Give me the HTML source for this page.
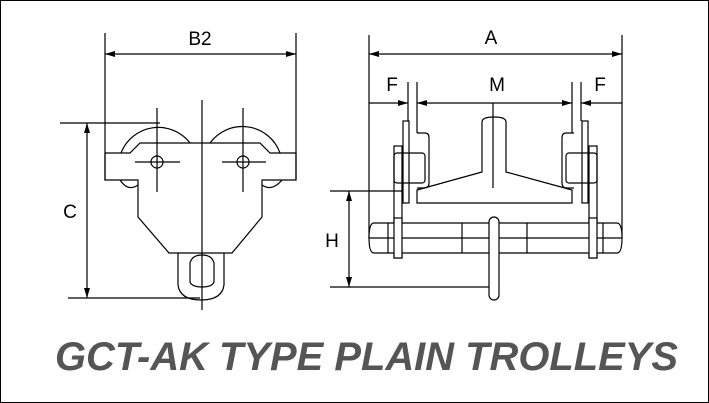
<!DOCTYPE html>
<html><head><style>
html,body{margin:0;padding:0;background:#fff;}
svg{display:block;}
text{font-family:"Liberation Sans",sans-serif;}
</style></head><body>
<svg width="709" height="403" viewBox="0 0 709 403" xmlns="http://www.w3.org/2000/svg">
<defs>
<marker id="ar" viewBox="0 0 10 6" refX="10" refY="3" markerWidth="18" markerHeight="6" markerUnits="userSpaceOnUse" orient="auto-start-reverse">
<path d="M0,0 L10,3 L0,6 z" fill="#000"/></marker>
</defs>
<rect x="0.5" y="0.5" width="708" height="402" fill="#fff" stroke="#000" stroke-width="1"/>
<g stroke="#000" stroke-width="1.2" fill="none">
<!-- LEFT VIEW -->
<line x1="105" y1="33" x2="105" y2="180"/>
<line x1="296" y1="33" x2="296" y2="180"/>
<line x1="105" y1="54" x2="296" y2="54" marker-start="url(#ar)" marker-end="url(#ar)"/>
<line x1="202" y1="100" x2="202" y2="310" />
<!-- wheels -->
<path d="M121,153 A40,40 0 0 1 190,143"/>
<path d="M210,143 A40,40 0 0 1 280,153"/>
<path d="M120,180 Q128,192 138,185"/>
<path d="M282,180 Q272,192 262,185"/>
<!-- plate -->
<path d="M105,153 L130,153 L140,143 L260,143 L270,153 L296,153 L296,180 L262,180 L262,185"/>
<path d="M105,153 L105,180 L138,180 L138,217 L169,253 L232,253 L262,217 L262,185"/>
<circle cx="157" cy="162" r="6"/>
<circle cx="243" cy="162" r="6"/>
<line x1="157" y1="108" x2="157" y2="192"/><line x1="135" y1="162" x2="180" y2="162"/>
<line x1="243" y1="108" x2="243" y2="192"/><line x1="222" y1="162" x2="266" y2="162"/>
<!-- eye -->
<path d="M178,253 L178,285 Q180,300 201,300 Q222,300 224,285 L224,253"/>
<path d="M190,263 Q192,255 202,255 Q212,255 214,263 L214,282 Q212,287 202,287 Q192,287 190,282 Z"/>
<!-- C dim -->
<line x1="60" y1="123" x2="160" y2="123"/>
<line x1="68" y1="298" x2="200" y2="298"/>
<line x1="87" y1="123" x2="87" y2="298" marker-start="url(#ar)" marker-end="url(#ar)"/>

<!-- RIGHT VIEW -->
<line x1="369" y1="35" x2="369" y2="238"/>
<line x1="622" y1="35" x2="622" y2="238"/>
<line x1="369" y1="54" x2="622" y2="54" marker-start="url(#ar)" marker-end="url(#ar)"/>
<line x1="408" y1="82" x2="408" y2="121"/><line x1="417" y1="82" x2="417" y2="133"/>
<line x1="572" y1="82" x2="572" y2="133"/><line x1="581" y1="82" x2="581" y2="121"/>
<line x1="369" y1="103" x2="408" y2="103" marker-end="url(#ar)"/>
<line x1="417" y1="103" x2="572" y2="103" marker-start="url(#ar)" marker-end="url(#ar)"/>
<line x1="581" y1="103" x2="622" y2="103" marker-start="url(#ar)"/>
<line x1="493" y1="103" x2="493" y2="188"/>
<!-- rail -->
<path d="M482,172 L482,122 Q482,117 494,117 Q506,117 506,122 L506,172 L572,190 L572,203 L417,203 L417,190 Z"/>
<!-- left side -->
<rect x="403" y="121" width="6" height="82"/>
<rect x="394" y="146" width="8" height="112"/>
<path d="M417,133 L425,133 Q429,133 429,138 L429,183 Q429,188 424,188 L417,188"/>
<rect x="394" y="153" width="31" height="30" rx="3"/>
<!-- right side -->
<rect x="582" y="121" width="6" height="82"/>
<rect x="589" y="146" width="8" height="112"/>
<path d="M574,133 L566,133 Q562,133 562,138 L562,183 Q562,188 567,188 L574,188"/>
<rect x="566" y="153" width="31" height="30" rx="3"/>
<!-- axle -->
<path d="M374,223 L617,223 Q622,223 622,238 Q622,253 617,253 L374,253 Q369,253 369,238 Q369,223 374,223 Z" fill="#fff"/>
<line x1="369" y1="238" x2="622" y2="238"/>
<line x1="388" y1="223" x2="388" y2="253"/><line x1="603" y1="223" x2="603" y2="253"/>
<line x1="462" y1="223" x2="462" y2="253"/><line x1="527" y1="223" x2="527" y2="253"/>
<rect x="394" y="218" width="8" height="40" fill="#fff"/>
<rect x="589" y="218" width="8" height="40" fill="#fff"/>
<rect x="489" y="217" width="10" height="83" rx="5" fill="#fff"/>
<!-- H dim -->
<line x1="330" y1="191" x2="403" y2="191"/>
<line x1="330" y1="287" x2="489" y2="287"/>
<line x1="349" y1="191" x2="349" y2="287" marker-start="url(#ar)" marker-end="url(#ar)"/>
</g>
<g fill="#000" font-size="19">
<text x="200" y="45" text-anchor="middle">B2</text>
<text x="70" y="218" text-anchor="middle">C</text>
<text x="491" y="44" text-anchor="middle">A</text>
<text x="392" y="91" text-anchor="middle">F</text>
<text x="497" y="91" text-anchor="middle">M</text>
<text x="600" y="91" text-anchor="middle">F</text>
<text x="332" y="247" text-anchor="middle">H</text>
</g>
<text x="55" y="370" font-size="40" font-weight="bold" font-style="italic" fill="#555" textLength="623" lengthAdjust="spacingAndGlyphs">GCT-AK TYPE PLAIN TROLLEYS</text>
</svg>
</body></html>
